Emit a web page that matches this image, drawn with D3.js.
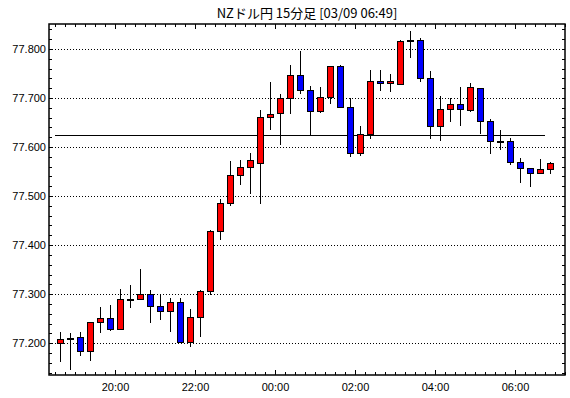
<!DOCTYPE html>
<html>
<head>
<meta charset="utf-8">
<script src="https://cdn.jsdelivr.net/npm/d3@7"></script>
<style>
  body { margin: 0; background: #fff; }
  svg { display: block; }
  .title { font-family: "Noto Sans CJK JP", sans-serif; font-size: 13px; text-anchor: middle; }
  .tick text { font-family: "Liberation Sans", Arial, sans-serif; font-size: 11px; fill: #000; }
  .domain { display: none; }
  .grid line { stroke: #000; stroke-width: 1; stroke-dasharray: 1,2; shape-rendering: crispEdges; }
  .wick { stroke: #000; stroke-width: 1; shape-rendering: crispEdges; }
  .body { stroke: #000; stroke-width: 1; shape-rendering: crispEdges; }
  .up { fill: #ff0000; }
  .down { fill: #0000ff; }
</style>
</head>
<body>
<script>
//consts
const
  width = 570,
  height = 398,
  plotLeft = 49,
  plotRight = 565,
  plotTop = 24,
  plotBottom = 375,
  bodyHalf = 3

//data: 15 min bars, 03/08 18:30 .. 03/09 06:45
const titleText = 'NZドル円 15分足 [03/09 06:49]'
const firstBar = new Date(2021, 2, 8, 18, 30)
const barMinutes = 15
const opens = [
  77.200, 77.210, 77.213, 77.183, 77.243, 77.252, 77.228, 77.290, 77.290, 77.300,
  77.275, 77.265, 77.283, 77.202, 77.253, 77.306, 77.428, 77.485, 77.542, 77.560,
  77.568, 77.662, 77.670, 77.700, 77.747, 77.717, 77.674, 77.702, 77.765, 77.682,
  77.588, 77.626, 77.735, 77.731, 77.729, 77.818, 77.818, 77.740, 77.642, 77.678,
  77.688, 77.676, 77.721, 77.653, 77.613, 77.613, 77.570, 77.558, 77.547, 77.556]
const highs = [
  77.223, 77.220, 77.223, 77.243, 77.273, 77.278, 77.311, 77.319, 77.351, 77.308,
  77.300, 77.293, 77.293, 77.270, 77.308, 77.430, 77.495, 77.571, 77.573, 77.587,
  77.675, 77.732, 77.709, 77.768, 77.795, 77.725, 77.723, 77.765, 77.768, 77.700,
  77.642, 77.758, 77.758, 77.750, 77.818, 77.837, 77.822, 77.756, 77.705, 77.700,
  77.723, 77.731, 77.721, 77.658, 77.634, 77.619, 77.578, 77.558, 77.576, 77.570]
const lows = [
  77.163, 77.148, 77.175, 77.166, 77.222, 77.226, 77.228, 77.273, 77.290, 77.244,
  77.249, 77.224, 77.202, 77.195, 77.215, 77.300, 77.413, 77.482, 77.525, 77.507,
  77.486, 77.637, 77.607, 77.670, 77.710, 77.626, 77.671, 77.690, 77.682, 77.581,
  77.583, 77.619, 77.716, 77.714, 77.729, 77.784, 77.735, 77.619, 77.615, 77.653,
  77.645, 77.674, 77.629, 77.588, 77.596, 77.566, 77.528, 77.520, 77.547, 77.547]
const closes = [
  77.208, 77.210, 77.183, 77.243, 77.252, 77.228, 77.290, 77.290, 77.300, 77.275,
  77.265, 77.283, 77.202, 77.253, 77.306, 77.428, 77.485, 77.542, 77.560, 77.573,
  77.662, 77.668, 77.700, 77.747, 77.717, 77.674, 77.702, 77.765, 77.682, 77.588,
  77.626, 77.735, 77.731, 77.735, 77.816, 77.818, 77.740, 77.642, 77.678, 77.688,
  77.678, 77.723, 77.653, 77.613, 77.613, 77.570, 77.558, 77.547, 77.556, 77.568]
const refLevel = 77.6245
const yMajor = [77.2, 77.3, 77.4, 77.5, 77.6, 77.7, 77.8]

//helpers
const addMin = (d, m) => new Date(d.getTime() + m * 60000)
const bars = opens.map((o, i) => ({
  t: addMin(firstBar, i * barMinutes),
  o: o, h: highs[i], l: lows[i], c: closes[i]
}))
const lastBar = bars[bars.length - 1].t

//scales
const x = d3.scaleTime()
  .domain([addMin(firstBar, -9), addMin(firstBar, 765)])
  .range([plotLeft, plotRight])
const y = d3.scaleLinear()
  .domain([77.135, 77.851])
  .range([plotBottom, plotTop])

const svg = d3.select('body')
  .append('svg')
    .attr('width', width)
    .attr('height', height)

//title
svg.append('text')
  .attr('class', 'title')
  .attr('x', 307)
  .attr('y', 18)
  .text(titleText)

//grid
svg.append('g')
  .attr('class', 'grid')
  .selectAll('line')
  .data(yMajor)
  .enter()
  .append('line')
    .attr('x1', plotLeft)
    .attr('x2', plotRight)
    .attr('y1', d => Math.round(y(d)) + 0.5)
    .attr('y2', d => Math.round(y(d)) + 0.5)

//axes (ticks inward)
const minorX = d3.timeMinute.every(15)
const majorX = d3.timeHour.every(2)
const minorY = d3.range(77.14, 77.85, 0.02)

function ticks(g) {
  g.selectAll('.tick line').attr('stroke', '#000').attr('shape-rendering', 'crispEdges')
  g.select('.domain').remove()
}
svg.append('g').attr('transform', `translate(0,${plotBottom})`)
  .call(d3.axisBottom(x).ticks(minorX).tickSize(-3).tickFormat(''))
  .call(ticks)
svg.append('g').attr('transform', `translate(0,${plotBottom})`)
  .call(d3.axisBottom(x).ticks(majorX).tickSize(-5).tickPadding(8).tickFormat(d3.timeFormat('%H:%M')))
  .call(ticks)
svg.append('g').attr('transform', `translate(0,${plotTop})`)
  .call(d3.axisTop(x).ticks(minorX).tickSize(-3).tickFormat(''))
  .call(ticks)
svg.append('g').attr('transform', `translate(0,${plotTop})`)
  .call(d3.axisTop(x).ticks(majorX).tickSize(-5).tickFormat(''))
  .call(ticks)
svg.append('g').attr('transform', `translate(${plotLeft},0)`)
  .call(d3.axisLeft(y).tickValues(minorY).tickSize(-3).tickFormat(''))
  .call(ticks)
svg.append('g').attr('transform', `translate(${plotLeft},0)`)
  .call(d3.axisLeft(y).tickValues(yMajor).tickSize(0).tickPadding(3).tickFormat(d3.format('.3f')))
  .call(ticks)
svg.append('g').attr('transform', `translate(${plotRight},0)`)
  .call(d3.axisRight(y).tickValues(minorY).tickSize(-3).tickFormat(''))
  .call(ticks)

//reference line
svg.append('line')
  .attr('x1', x(firstBar))
  .attr('x2', x(lastBar))
  .attr('y1', Math.round(y(refLevel)) + 0.5)
  .attr('y2', Math.round(y(refLevel)) + 0.5)
  .attr('stroke', '#000')
  .attr('shape-rendering', 'crispEdges')

//candles
const cx = d => Math.round(x(addMin(d.t, barMinutes / 2)))
let candle = svg.append('g')
  .selectAll('g')
  .data(bars)
  .enter()
  .append('g')

candle.append('line')
  .attr('class', 'wick')
  .attr('x1', d => cx(d) + 0.5)
  .attr('x2', d => cx(d) + 0.5)
  .attr('y1', d => Math.round(y(d.h)))
  .attr('y2', d => Math.round(y(d.l)) + 1)

candle.append('rect')
  .attr('class', d => 'body ' + (d.c >= d.o ? 'up' : 'down'))
  .attr('x', d => cx(d) - bodyHalf + 0.5)
  .attr('width', bodyHalf * 2)
  .attr('y', d => Math.round(y(Math.max(d.o, d.c))) + 0.5)
  .attr('height', d => Math.max(1, Math.round(y(Math.min(d.o, d.c))) - Math.round(y(Math.max(d.o, d.c)))))

//frame
svg.append('rect')
  .attr('x', plotLeft)
  .attr('y', plotTop)
  .attr('width', plotRight - plotLeft)
  .attr('height', plotBottom - plotTop)
  .attr('fill', 'none')
  .attr('stroke', '#000')
  .attr('stroke-width', 1.5)
</script>
</body>
</html>
